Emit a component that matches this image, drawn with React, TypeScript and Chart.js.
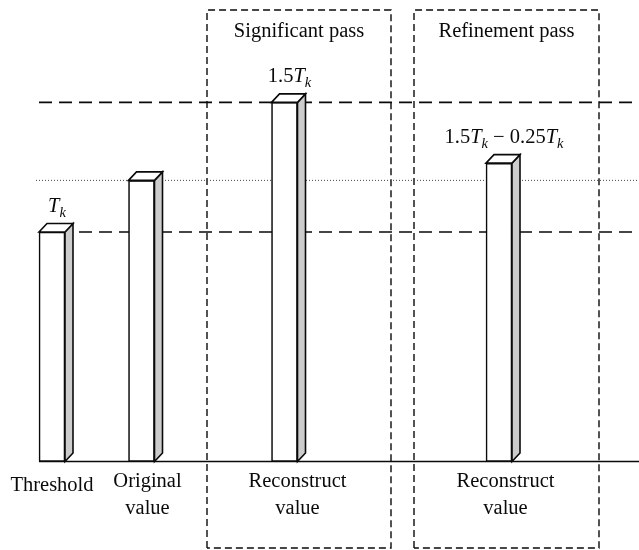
import React, { useEffect, useRef } from 'react';
import { Chart, registerables } from 'chart.js';

Chart.register(...registerables);

// ---- data ----
const categories = ['Threshold', 'Original value', 'Reconstruct value', 'Reconstruct value'];
const tickLines = [['Threshold'], ['Original', 'value'], ['Reconstruct', 'value'], ['Reconstruct', 'value']];
const barPositions = [5.2, 14.15, 28.45, 49.9];
const tickPositions = [5.2, 14.75, 29.75, 50.55];
const barValues = [1.0, 1.225, 1.565, 1.3];
const barAnnotations = ['T_k', '', '1.5T_k', '1.5T_k − 0.25T_k'];
const passNames = ['Significant pass', 'Refinement pass'];
const passStarts = [20.7, 41.4];
const passEnds = [39.1, 59.9];
const passTop = 1.967;
const passBottom = -0.377;
const dashedLevels = [1.0, 1.565];
const dottedLevels = [1.225];
const levelStart = 3.9;
const dottedStart = 3.6;
const xMin = 0;
const xMax = 63.9;
const yMax = 2;

const SERIF = '"Liberation Serif", "DejaVu Serif", serif';
const INK = '#0a0a0a';

function hLine(y: number, start: number, dash: number[], width: number, color: string) {
  return {
    type: 'line' as const,
    data: [{ x: start, y }, { x: xMax, y }],
    borderColor: color,
    borderWidth: width,
    borderDash: dash,
    pointRadius: 0,
    fill: false,
    tension: 0,
    order: 2,
    clip: false as any,
  };
}

function boxLine(s: number, e: number) {
  return {
    type: 'line' as const,
    data: [
      { x: s, y: passBottom },
      { x: s, y: passTop },
      { x: e, y: passTop },
      { x: e, y: passBottom },
      { x: s, y: passBottom },
    ],
    borderColor: INK,
    borderWidth: 1.4,
    borderDash: [7, 4],
    pointRadius: 0,
    fill: false,
    tension: 0,
    order: 3,
    clip: false as any,
  };
}

function drawMath(ctx: CanvasRenderingContext2D, text: string, cx: number, baseline: number) {
  const parts = text.split(/(T_k)/).filter((p) => p.length > 0);
  const segs: { t: string; font: string; dy: number }[] = [];
  parts.forEach((p) => {
    if (p === 'T_k') {
      segs.push({ t: 'T', font: `italic 20.5px ${SERIF}`, dy: 0 });
      segs.push({ t: 'k', font: `italic 14.5px ${SERIF}`, dy: 4.5 });
    } else {
      segs.push({ t: p, font: `20.5px ${SERIF}`, dy: 0 });
    }
  });
  let total = 0;
  const widths = segs.map((s) => {
    ctx.font = s.font;
    const w = ctx.measureText(s.t).width;
    total += w;
    return w;
  });
  let x = cx - total / 2;
  ctx.textAlign = 'left';
  ctx.textBaseline = 'alphabetic';
  ctx.fillStyle = INK;
  segs.forEach((s, i) => {
    ctx.font = s.font;
    ctx.fillText(s.t, x, baseline + s.dy);
    x += widths[i];
  });
}

const boxPlugin = {
  id: 'bar3d',
  afterDatasetsDraw(chart: any) {
    const ctx: CanvasRenderingContext2D = chart.ctx;
    const meta = chart.getDatasetMeta(0);
    const dx = 8;
    const dy = 8.5;
    ctx.save();
    ctx.lineWidth = 1.6;
    ctx.strokeStyle = INK;
    ctx.lineJoin = 'miter';
    meta.data.forEach((el: any) => {
      const { x, y, base, width } = el.getProps(['x', 'y', 'base', 'width'], true);
      const l = x - width / 2;
      const r = x + width / 2;
      // side face
      ctx.beginPath();
      ctx.moveTo(r, y);
      ctx.lineTo(r + dx, y - dy);
      ctx.lineTo(r + dx, base - dy);
      ctx.lineTo(r, base);
      ctx.closePath();
      ctx.fillStyle = '#cccccc';
      ctx.fill();
      ctx.stroke();
      // top face
      ctx.beginPath();
      ctx.moveTo(l, y);
      ctx.lineTo(l + dx, y - dy);
      ctx.lineTo(r + dx, y - dy);
      ctx.lineTo(r, y);
      ctx.closePath();
      ctx.fillStyle = '#ffffff';
      ctx.fill();
      ctx.stroke();
    });
    ctx.restore();
  },
  afterDraw(chart: any) {
    const ctx: CanvasRenderingContext2D = chart.ctx;
    const xs = chart.scales.x;
    const ys = chart.scales.y;
    ctx.save();
    // pass titles
    ctx.font = `20.5px ${SERIF}`;
    ctx.fillStyle = INK;
    ctx.textAlign = 'center';
    ctx.textBaseline = 'alphabetic';
    passNames.forEach((name, i) => {
      const cx = xs.getPixelForValue((passStarts[i] + passEnds[i]) / 2);
      ctx.fillText(name, cx, ys.getPixelForValue(passTop) + 27);
    });
    // bar annotations
    const meta = chart.getDatasetMeta(0);
    meta.data.forEach((el: any, i: number) => {
      const txt = barAnnotations[i];
      if (!txt) return;
      const { x, y } = el.getProps(['x', 'y'], true);
      drawMath(ctx, txt, x + 5, y - 20);
    });
    ctx.restore();
  },
};

export default function App() {
  const ref = useRef<HTMLCanvasElement | null>(null);

  useEffect(() => {
    if (!ref.current) return;
    const datasets: any[] = [
      {
        type: 'bar',
        label: 'values',
        data: barPositions.map((x, i) => ({ x, y: barValues[i] })),
        backgroundColor: '#ffffff',
        borderColor: INK,
        borderWidth: 1.6,
        borderSkipped: false,
        barThickness: 26,
        order: 0,
      },
      ...dashedLevels.map((v) => hLine(v, levelStart, [13, 7], 1.6, INK)),
      ...dottedLevels.map((v) => hLine(v, dottedStart, [1, 2], 1, '#444444')),
      { ...hLine(0, levelStart, [], 1.6, INK), order: 1 },
      ...passStarts.map((s, i) => boxLine(s, passEnds[i])),
    ];

    const chart = new Chart(ref.current, {
      type: 'bar',
      data: { labels: categories, datasets },
      plugins: [boxPlugin],
      options: {
        animation: false,
        responsive: true,
        maintainAspectRatio: false,
        devicePixelRatio: 1,
        layout: { padding: { top: 2.5, left: 0, right: 0, bottom: 0 } },
        plugins: { legend: { display: false }, tooltip: { enabled: false } },
        scales: {
          x: {
            type: 'linear',
            min: xMin,
            max: xMax,
            offset: false,
            grid: { display: false, drawTicks: false, offset: false },
            border: { display: false },
            afterBuildTicks: (scale: any) => {
              scale.ticks = tickPositions.map((value) => ({ value }));
            },
            afterFit: (scale: any) => {
              scale.height = 88.5;
            },
            ticks: {
              autoSkip: false,
              maxRotation: 0,
              minRotation: 0,
              padding: 6.5,
              color: INK,
              font: (c: any) => ({
                family: SERIF,
                size: 20.5,
                lineHeight: (tickLines[c.index] || []).length > 1 ? 1.32 : 1.71,
              }),
              callback: (_v: any, i: number) => tickLines[i],
            },
          },
          y: {
            type: 'linear',
            display: false,
            min: 0,
            max: yMax,
          },
        },
      } as any,
    });
    return () => chart.destroy();
  }, []);

  return (
    <div style={{ position: 'absolute', left: 0, top: 0, width: 639, height: 550, background: '#ffffff' }}>
      <canvas ref={ref} />
    </div>
  );
}
